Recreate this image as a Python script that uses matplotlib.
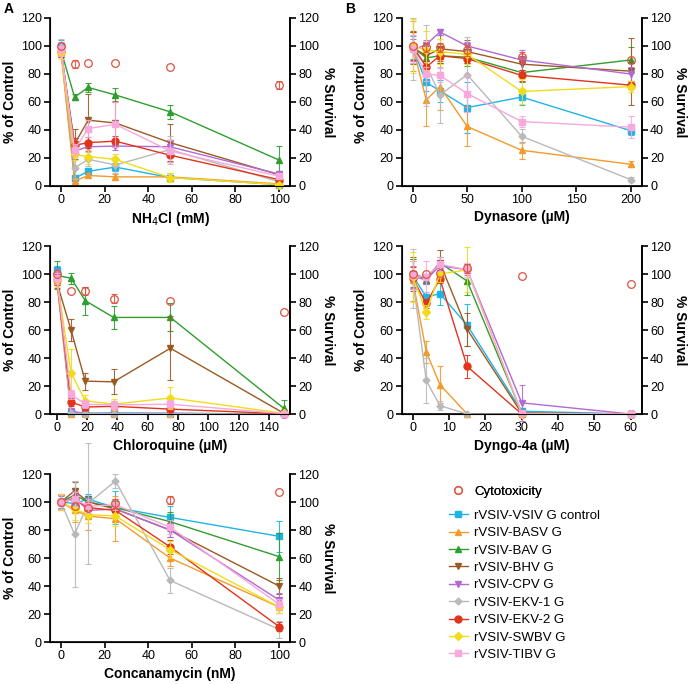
import numpy as np
import matplotlib.pyplot as plt

plt.rcParams['font.family'] = ['Liberation Sans', 'DejaVu Sans']

# series order used in every panel below
names = ['rVSIV-VSIV G control', 'rVSIV-BASV G', 'rVSIV-BAV G', 'rVSIV-BHV G',
         'rVSIV-CPV G', 'rVSIV-EKV-1 G', 'rVSIV-EKV-2 G', 'rVSIV-SWBV G',
         'rVSIV-TIBV G']
colors = ['#1fb4e8', '#f39a2c', '#2e9e2e', '#9b5a22', '#b169d6', '#b9b9b9',
          '#e2341a', '#f2dc1a', '#f7a8dc']
markers = ['s', '^', '^', 'v', 'v', 'D', 'o', 'D', 's']
msizes = [5, 5, 5, 5, 5, 3.5, 5, 4, 5]
tox_color = '#e0523f'

# --- NH4Cl (mM)
nh4_x = [0, 6.25, 12.5, 25, 50, 100]
nh4_tox = [100, 87, 88, 88, 85, 72]
nh4_tox_err = [0, 3, 0, 0, 0, 3]
nh4_y = [
    [99, 5.5, 10.5, 13.5, 6, 1],
    [96, 3.5, 7.5, 6.5, 6.5, 1.5],
    [97, 63.5, 70.4, 65, 53, 18.5],
    [97, 30, 47, 45, 31, 8],
    [98, 25, 28, 28.5, 28, 8.5],
    [99, 13, 19, 15, 26, 3],
    [96, 29, 31, 32, 22, 4.5],
    [95, 22.5, 21, 19, 6, 1],
    [98, 26, 41, 44, 25, 7],
]
nh4_err = [
    [5, 2, 2, 3, 2, 1],
    [4, 2, 2, 2, 3, 1],
    [3, 2, 3, 5, 5, 10],
    [5, 11, 19, 16, 13, 2],
    [5, 3, 3, 3, 4, 2],
    [6, 8, 5, 6, 10, 2],
    [4, 5, 4, 4, 5, 2],
    [4, 4, 5, 4, 3, 1],
    [5, 4, 6, 16, 8, 2],
]

# --- Dynasore (uM)
dyn_x = [0, 12.5, 25, 50, 100, 200]
dyn_tox = [100, 99, 99, 97, 92, 90]
dyn_tox_err = [0, 3, 3, 4, 4, 0]
dyn_y = [
    [99, 74, 68, 56, 63.5, 39.5],
    [100, 61.5, 71, 42.5, 25.5, 15.5],
    [99, 91.5, 93, 92, 81, 90],
    [99, 93, 98, 96, 87, 82],
    [97, 101, 110, 100, 90, 80],
    [98, 86, 65, 79.5, 35.5, 4.5],
    [100, 85, 93, 91, 79, 72],
    [100, 97, 96, 94, 67.5, 71],
    [98, 80, 79, 66, 46, 42],
]
dyn_err = [
    [8, 6, 8, 18, 6, 3],
    [18, 19, 17, 14, 6, 2],
    [11, 5, 5, 6, 7, 9],
    [12, 7, 10, 8, 6, 24],
    [8, 3, 2, 3, 7, 5],
    [22, 29, 20, 27, 5, 2],
    [10, 4, 4, 3, 4, 3],
    [19, 14, 9, 7, 9, 4],
    [10, 5, 5, 13, 4, 8],
]

# --- Chloroquine (uM)
chl_x = [0, 9.375, 18.75, 37.5, 75, 150]
chl_tox = [100, 88, 88, 82.5, 81, 73]
chl_tox_err = [0, 0, 3, 3, 0, 0]
chl_y = [
    [103, 1.5, 0.5, 0.8, 0.5, 0],
    [95, 0.3, 0, 0, 0, 0],
    [99, 97, 81, 69, 69, 4],
    [94, 60, 23.5, 23, 47, 0.5],
    [100, 2, 0.5, 0.5, 0.5, 0],
    [98, 0.5, 0.3, 0.3, 0.3, 0],
    [96, 8.5, 5, 5.5, 3.5, 0.2],
    [96, 29.5, 9.5, 7, 11.5, 0.5],
    [97, 14, 7, 6.5, 7, 0.3],
]
chl_err = [
    [3, 1, 1, 1, 1, 0],
    [3, 0, 0, 0, 0, 0],
    [10, 4, 10, 8, 10, 6],
    [4, 8, 6, 9, 23, 1],
    [4, 1, 0, 0, 0, 0],
    [4, 0, 0, 0, 0, 0],
    [4, 3, 2, 2, 2, 0],
    [5, 17, 4, 4, 8, 0],
    [4, 3, 3, 3, 3, 0],
]

# --- Dyngo-4a (uM)
dng_x = [0, 3.75, 7.5, 15, 30, 60]
dng_tox = [100, 100, 101, 104, 98.5, 93]
dng_tox_err = [0, 0, 0, 3, 0, 0]
dng_y = [
    [99, 83.5, 86, 63.5, 2, 0],
    [96, 44.5, 21, 0, 0, 0],
    [101, 96, 108, 95, 1, 0],
    [100, 97, 108, 60.5, 0.5, 0],
    [98, 96, 106, 103, 8, 0],
    [97, 24, 6, 0, 0, 0],
    [97, 79, 96.5, 34, 0, 0],
    [98, 73, 100, 103, 0, 0],
    [99, 98, 107, 103, 0.5, 0],
]
dng_err = [
    [10, 4, 8, 15, 1, 0],
    [15, 8, 13, 0, 0, 0],
    [10, 3, 4, 10, 0, 0],
    [12, 3, 9, 12, 0, 0],
    [8, 3, 3, 4, 13, 0],
    [21, 16, 3, 0, 0, 0],
    [8, 3, 3, 8, 0, 0],
    [18, 5, 6, 16, 0, 0],
    [10, 11, 5, 5, 0, 0],
]

# --- Concanamycin (nM)
con_x = [0, 6.25, 12.5, 25, 50, 100]
con_tox = [100, 97, 96, 99, 101.5, 107]
con_tox_err = [0, 0, 0, 3, 3, 0]
con_y = [
    [100, 99, 102, 96, 89, 75.5],
    [100, 94, 90, 88, 60, 25],
    [100, 105, 100, 96, 86, 61],
    [100, 108, 100, 95, 80, 40],
    [100, 103, 94, 95, 80, 30],
    [100, 77, 99, 115, 44, 9],
    [100, 102, 96, 94, 68, 11],
    [100, 95, 91, 90, 66, 25],
    [100, 102, 97, 98, 82, 27],
]
con_err = [
    [4, 5, 4, 12, 8, 11],
    [6, 8, 10, 16, 6, 4],
    [5, 5, 4, 5, 7, 17],
    [5, 6, 4, 5, 5, 6],
    [5, 5, 5, 5, 5, 5],
    [6, 38, 43, 5, 9, 6],
    [5, 5, 4, 4, 5, 3],
    [6, 8, 6, 7, 6, 4],
    [5, 5, 5, 4, 5, 4],
]

panels = [
    ('NH$_4$Cl (mM)', nh4_x, nh4_y, nh4_err, nh4_tox, nh4_tox_err,
     [0.0727, 0.7281], (-5, 105), np.arange(0, 101, 20)),
    ('Dynasore (µM)', dyn_x, dyn_y, dyn_err, dyn_tox, dyn_tox_err,
     [0.5839, 0.7281], (-10, 210), np.arange(0, 201, 50)),
    ('Chloroquine (µM)', chl_x, chl_y, chl_err, chl_tox, chl_tox_err,
     [0.0727, 0.3947], (-4.5, 154), np.arange(0, 141, 20)),
    ('Dyngo-4a (µM)', dng_x, dng_y, dng_err, dng_tox, dng_tox_err,
     [0.5839, 0.3947], (-3, 63), np.arange(0, 61, 10)),
    ('Concanamycin (nM)', con_x, con_y, con_err, con_tox, con_tox_err,
     [0.0727, 0.0614], (-5, 105), np.arange(0, 101, 20)),
]


def draw_err(ax, x, y, err, color, z, cap=2.5):
    # only draw bars that are actually visible (skip zero errors)
    x, y, err = np.asarray(x), np.asarray(y), np.asarray(err)
    keep = err > 0
    if keep.any():
        ax.errorbar(x[keep], y[keep], yerr=err[keep], fmt='none',
                    ecolor=color, elinewidth=0.8, capsize=cap, capthick=0.8,
                    alpha=0.9, clip_on=False, zorder=z)


fig = plt.figure(figsize=(6.88, 6.84), dpi=100)
w, h = 0.3488, 0.2456

for xlabel, x, ys, errs, tox, tox_err, pos, xlim, xticks in panels:
    ax = fig.add_axes([pos[0], pos[1], w, h])
    for i in range(len(names)):
        z = 2 + i * 0.1
        draw_err(ax, x, ys[i], errs[i], colors[i], z)
        ax.plot(x, ys[i], color=colors[i], marker=markers[i], ms=msizes[i],
                lw=1, clip_on=False, zorder=z + 0.05)
    draw_err(ax, x, tox, tox_err, tox_color, 4, cap=2)
    ax.plot(x, tox, color=tox_color, marker='o', ms=5.5, mfc='none', mew=0.9,
            ls='none', clip_on=False, zorder=4.1)
    ax.set_xlim(*xlim)
    ax.set_ylim(0, 120)
    ax.set_xticks(xticks)
    ax.set_yticks(np.arange(0, 121, 20))
    ax.spines['top'].set_visible(False)
    for s in ['left', 'bottom', 'right']:
        ax.spines[s].set_linewidth(1.2)
    ax.tick_params(labelsize=9, width=1.2, length=4, pad=2)
    ax.set_xlabel(xlabel, fontsize=10, fontweight='bold', labelpad=3)
    ax.set_ylabel('% of Control', fontsize=10, fontweight='bold', labelpad=3)
    ax2 = ax.twinx()
    ax2.set_ylim(0, 120)
    ax2.set_yticks(np.arange(0, 121, 20))
    ax2.spines['top'].set_visible(False)
    ax2.spines['right'].set_linewidth(1.2)
    ax2.tick_params(labelsize=9, width=1.2, length=4, pad=2)
    ax2.set_ylabel('% Survival', fontsize=10, fontweight='bold', rotation=270,
                   va='bottom', labelpad=1.5)

fig.text(0.006, 0.997, 'A', fontsize=10, fontweight='bold', va='top')
fig.text(0.502, 0.997, 'B', fontsize=10, fontweight='bold', va='top')

# legends
tox_handle = plt.Line2D([], [], color=tox_color, marker='o', mfc='none', ms=5.5,
                        mew=0.9, ls='none')
leg1 = fig.legend([tox_handle], ['Cytotoxicity'], loc='upper left',
                  bbox_to_anchor=(0.645, 0.2975), frameon=False, fontsize=9.5,
                  handlelength=1.4, handletextpad=0.5, borderaxespad=0)
handles = [plt.Line2D([], [], color=colors[i], marker=markers[i], ms=msizes[i],
                      lw=1) for i in range(len(names))]
fig.legend(handles, names, loc='upper left', bbox_to_anchor=(0.645, 0.2625),
           frameon=False, fontsize=9.5, handlelength=1.4, handletextpad=0.5,
           labelspacing=0.39, borderaxespad=0)
fig.add_artist(leg1)

fig.savefig('out.png', dpi=100)
